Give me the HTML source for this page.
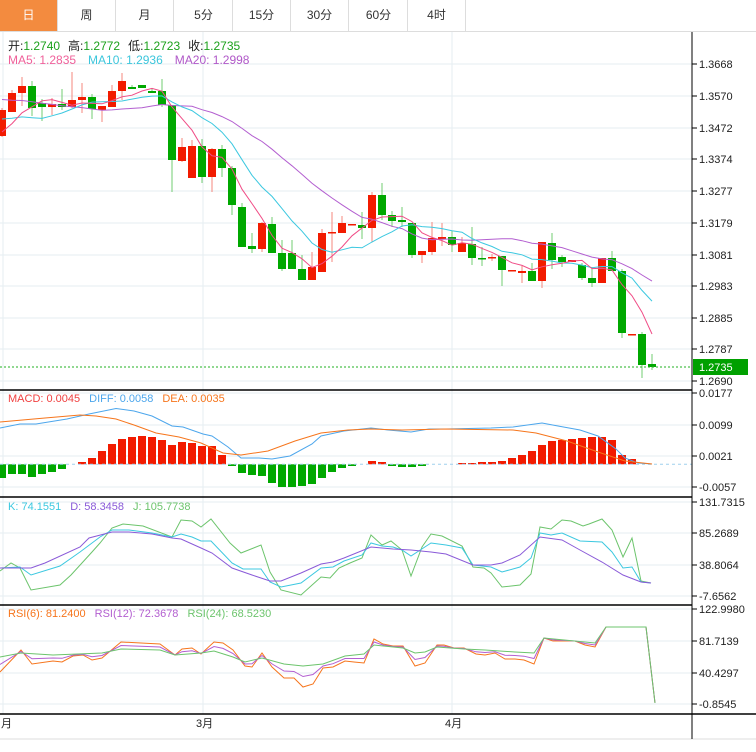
<!DOCTYPE html>
<html><head><meta charset="utf-8"><style>
body{margin:0;background:#fff;width:756px;height:752px;overflow:hidden;font-family:"Liberation Sans","Noto Sans CJK SC",sans-serif}
.tabs{position:absolute;left:0;top:0;height:31px;width:756px;border-bottom:1px solid #ddd}
.tab{position:absolute;top:0;height:31px;width:57px;border-right:1px solid #ddd;text-align:center;line-height:31px;font-size:12px;color:#333}
svg{position:absolute;left:0;top:0}
</style></head><body>
<div class="tabs">
<div class="tab" style="left:0;background:#f38b3f;color:#fff">日</div>
<div class="tab" style="left:58px">周</div>
<div class="tab" style="left:116px">月</div>
<div class="tab" style="left:175px">5分</div>
<div class="tab" style="left:233px">15分</div>
<div class="tab" style="left:291px">30分</div>
<div class="tab" style="left:350px">60分</div>
<div class="tab" style="left:408px">4时</div>
</div>
<svg id="s" width="756" height="752" xmlns="http://www.w3.org/2000/svg" font-family="Liberation Sans, Noto Sans CJK SC, sans-serif"></svg>
<script>
var s=document.getElementById('s'),h='';
function L(x1,y1,x2,y2,c,w,d){h+='<line x1="'+x1+'" y1="'+y1+'" x2="'+x2+'" y2="'+y2+'" stroke="'+c+'" stroke-width="'+(w||1)+'"'+(d?' stroke-dasharray="'+d+'"':'')+'/>';}
function T(x,y,t,c,sz,a){h+='<text x="'+x+'" y="'+y+'" fill="'+c+'" font-size="'+(sz||11)+'"'+(a?' text-anchor="'+a+'"':'')+'>'+t+'</text>';}
function P(pts,c,w){h+='<polyline fill="none" stroke="'+c+'" stroke-width="'+(w||1)+'" points="'+pts.map(function(p){return p[0]+','+p[1]}).join(' ')+'"/>';}
var G='#e6edf2';
// grids
var pl=[[64,'1.3668'],[96,'1.3570'],[128,'1.3472'],[159,'1.3374'],[191,'1.3277'],[223,'1.3179'],[255,'1.3081'],[286,'1.2983'],[318,'1.2885'],[349,'1.2787'],[381,'1.2690']];
pl.forEach(function(p){L(0,p[0],692,p[0],G);});
var ml=[[393,'0.0177'],[425,'0.0099'],[456,'0.0021'],[487,'-0.0057']];
ml.forEach(function(p){L(0,p[0],692,p[0],G);});
var kl=[[502,'131.7315'],[533,'85.2689'],[565,'38.8064'],[596,'-7.6562']];
kl.forEach(function(p){L(0,p[0],692,p[0],G);});
var rl=[[609,'122.9980'],[641,'81.7139'],[673,'40.4297'],[704,'-0.8545']];
rl.forEach(function(p){L(0,p[0],692,p[0],G);});
[3,203,452].forEach(function(x){L(x,32,x,714,G);});
// candles [top,bottom,hi,lo,up]
var C=[[110,136,108,137,1],[93,112,90,112,1],[86,93,77,106,1],[86,108,81,116,0],[103,107,99,121,0],[104,107,98,115,1],[104,107,89,110,0],[100,107,72,108,1],[97,100,83,113,1],[97,109,94,119,0],[106,110,106,122,1],[91,107,85,107,1],[81,91,73,100,1],[87,89,85,89,0],[85,88,85,88,0],[91,93,88,93,0],[91,105,79,107,0],[105,160,105,192,0],[147,161,138,162,1],[146,178,140,178,1],[146,177,139,183,0],[149,177,148,192,1],[149,168,145,177,0],[168,205,166,215,0],[207,247,203,247,0],[246,249,233,253,0],[223,249,222,252,1],[224,253,217,253,0],[253,269,240,271,0],[253,269,240,269,0],[269,280,255,280,0],[267,280,252,280,1],[233,272,229,272,1],[232,233,212,262,1],[223,233,216,233,1],[224,225,224,225,1],[225,228,212,239,0],[195,228,192,242,1],[195,215,183,220,0],[215,221,211,227,0],[220,222,207,227,0],[223,255,223,258,0],[251,255,251,263,1],[238,252,222,255,1],[237,239,223,246,1],[237,245,231,252,0],[243,252,237,252,1],[244,258,227,265,0],[258,259,247,266,0],[257,258,254,261,1],[256,270,256,286,0],[270,271,270,271,1],[271,273,266,283,1],[271,281,263,281,0],[242,281,242,288,1],[243,260,233,269,0],[257,262,255,267,0],[260,262,260,262,1],[265,278,263,280,0],[278,283,267,287,0],[258,283,258,283,1],[258,271,251,271,0],[271,333,269,338,0],[334,335,334,335,1],[334,365,332,378,0],[364,367,354,370,0]];
var closes=[80,80,80,80,80,80,80,80,80,80,100,100,100,100,130,135,140,138,137];
C.forEach(function(c,i){var x=2+10*i;
 var col=c[4]?'#f21b00':'#00a800',wc=c[4]?'#f5877c':'#72cc72';
 L(x,c[2],x,c[3],wc,1);
 h+='<rect x="'+(x-4)+'" y="'+c[0]+'" width="8" height="'+Math.max(1.5,c[1]-c[0])+'" fill="'+col+'"/>';
 closes.push(c[4]?c[0]:c[1]);});
function ma(n){var r=[];for(var i=0;i<C.length;i++){var k=i+19,t=0;for(var j=0;j<n;j++)t+=closes[k-j];r.push([2+10*i,(t/n).toFixed(1)]);}return r;}
P(ma(20),'#b35fd0');P(ma(10),'#3cc8e0');P(ma(5),'#f04c86');
L(0,367,692,367,'#22b022',1,'2,2');
// MACD bars
var mb=[478,474,474,477,474,472,469,465,462,458,451,444,439,437,436,437,440,445,442,443,446,446,455,466,473,475,476,483,487,487,486,484,478,472,468,466,465,461,462,466,467,467,466,465,465,464.5,463,463,462,462,461,458,455,451,445,441,440,439,438,437,437,440,455,459,464.5,464.5];
var Z=464.3;
mb.forEach(function(v,i){var x=2+10*i;if(Math.abs(v-Z)<0.8)return;
 var up=v<Z;h+='<rect x="'+(x-4)+'" y="'+Math.min(v,Z)+'" width="8" height="'+Math.abs(v-Z)+'" fill="'+(up?'#f21b00':'#00a800')+'"/>';});
L(0,Z,692,Z,'#9fd0ee',1,'3,3');
P([[0,428],[20,424],[36,424],[67,419],[89,414],[116,408.5],[134,411],[152,416],[172,426],[183,427],[203,434],[212,436],[228,447],[241,458],[259,458],[272,459],[290,456],[312,444],[321,436],[344,431],[371,428],[388,430],[411,432],[429,429],[446,429],[491,428],[513,427],[542,423],[558,426],[580,430],[598,436],[616,449],[625,458],[638,463],[652,464]],'#4ca6ec');
P([[0,422],[45,418],[80,415],[96,416],[116,419],[134,425],[156,433],[179,437],[201,443],[223,453],[241,455],[268,451],[295,441],[321,433],[348,430],[371,429],[402,430],[446,429],[513,430],[536,433],[567,441],[598,452],[625,461],[652,464]],'#f6751c');
// KDJ
P([[0,571],[11,563],[20,568],[31,590],[60,585],[71,575],[92,552],[100,543],[112,528],[123,524],[143,526],[172,537],[181,520],[192,521],[201,527],[211,519],[230,543],[241,553],[261,545],[270,572],[281,590],[301,595],[321,577],[330,578],[339,568],[350,563],[362,558],[371,535],[382,545],[391,541],[402,550],[411,576],[422,547],[431,534],[442,536],[462,546],[473,567],[484,568],[491,573],[502,587],[520,585],[531,574],[540,527],[551,529],[562,520],[571,521],[583,526],[589,524],[602,519],[612,530],[623,557],[632,538],[641,581],[651,583]],'#6cc46c');
P([[0,568],[20,567],[31,575],[60,566],[80,552],[100,537],[112,530],[129,530],[152,533],[172,537],[181,534],[192,537],[201,541],[211,541],[232,563],[243,569],[261,569],[270,582],[281,587],[301,583],[321,568],[333,567],[344,561],[362,555],[371,543],[382,546],[393,547],[402,550],[411,556],[431,543],[446,545],[462,548],[473,565],[491,567],[502,572],[520,567],[531,558],[540,533],[551,535],[562,533],[580,541],[602,542],[612,552],[623,568],[632,567],[641,582],[651,583]],'#3cc8e0');
P([[0,568],[31,568],[45,563],[80,547],[89,538],[112,532],[129,532],[152,534],[172,538],[181,539],[201,548],[212,553],[232,568],[252,575],[270,581],[281,581],[301,573],[321,564],[333,562],[344,558],[371,547],[393,549],[411,550],[431,552],[446,554],[473,565],[491,565],[502,563],[520,555],[540,537],[562,540],[580,550],[602,562],[623,575],[641,582],[651,583]],'#8a5ad8');
// RSI
var r6=[[0,672],[21,650],[32,664],[53,661],[62,662],[73,656],[83,655],[92,660],[102,658],[121,642],[141,643],[160,644],[175,655],[182,649],[192,648],[201,654],[214,642],[223,643],[233,650],[245,666],[252,667],[262,653],[272,667],[284,678],[294,678],[303,687],[313,684],[323,668],[333,667],[345,661],[354,662],[364,663],[374,639],[383,644],[393,646],[403,646],[415,666],[425,663],[437,645],[444,645],[454,648],[464,648],[476,654],[485,655],[495,653],[505,659],[515,659],[524,660],[534,664],[544,638],[553,641],[563,641],[575,641],[585,645],[595,647],[606,627],[646,627],[655,703]];
var r24=[[0,657],[21,653],[53,655],[102,653],[121,649],[160,650],[175,655],[201,653],[214,651],[233,657],[245,662],[262,658],[284,664],[303,666],[323,664],[345,656],[364,654],[374,645],[403,648],[415,653],[425,652],[437,647],[464,649],[485,650],[515,652],[534,653],[544,638],[595,643],[606,627],[646,627],[655,703]];
function interp(a,x){for(var i=1;i<a.length;i++){if(x<=a[i][0]){var t=(x-a[i-1][0])/(a[i][0]-a[i-1][0]);return a[i-1][1]+t*(a[i][1]-a[i-1][1]);}}return a[a.length-1][1];}
var r12=r6.map(function(p){return [p[0],((p[1]+interp(r24,p[0]))/2).toFixed(1)];});
P(r6,'#f6751c');P(r12,'#b35fd0');P(r24,'#6cc46c');
// separators & axis
[390,497,605].forEach(function(y){L(0,y,692,y,'#000',1.5);});
L(0,714,756,714,'#000',1.5);
L(0,739,756,739,'#ddd',1);
L(692,32,692,739,'#000',1);
pl.concat(ml,kl,rl).forEach(function(p){L(692,p[0],697,p[0],'#000');T(699,p[0]+4,p[1],'#222',11);});
h+='<rect x="693" y="359" width="55" height="16" fill="#00a000"/>';
T(699,371,'1.2735','#fff',11);
T(1,727,'月','#222',11);T(196,727,'3月','#222',11);T(445,727,'4月','#222',11);
// legends
h+='<text x="8" y="50" font-size="12"><tspan fill="#222">开:</tspan><tspan fill="#1aa01a">1.2740</tspan><tspan fill="#222" dx="8">高:</tspan><tspan fill="#1aa01a">1.2772</tspan><tspan fill="#222" dx="8">低:</tspan><tspan fill="#1aa01a">1.2723</tspan><tspan fill="#222" dx="8">收:</tspan><tspan fill="#1aa01a">1.2735</tspan></text>';
h+='<text x="8" y="64" font-size="12"><tspan fill="#f0609a">MA5: 1.2835</tspan><tspan fill="#3cc6dc" dx="12">MA10: 1.2936</tspan><tspan fill="#b058c8" dx="12">MA20: 1.2998</tspan></text>';
h+='<text x="8" y="402" font-size="11"><tspan fill="#f04040">MACD: 0.0045</tspan><tspan fill="#4ca6ec" dx="9">DIFF: 0.0058</tspan><tspan fill="#f6751c" dx="9">DEA: 0.0035</tspan></text>';
h+='<text x="8" y="510" font-size="11"><tspan fill="#3cc8e0">K: 74.1551</tspan><tspan fill="#8a5ad8" dx="9">D: 58.3458</tspan><tspan fill="#6cc46c" dx="9">J: 105.7738</tspan></text>';
h+='<text x="8" y="617" font-size="11"><tspan fill="#f6751c">RSI(6): 81.2400</tspan><tspan fill="#b35fd0" dx="9">RSI(12): 72.3678</tspan><tspan fill="#6cc46c" dx="9">RSI(24): 68.5230</tspan></text>';
s.innerHTML=h;
</script>
</body></html>
